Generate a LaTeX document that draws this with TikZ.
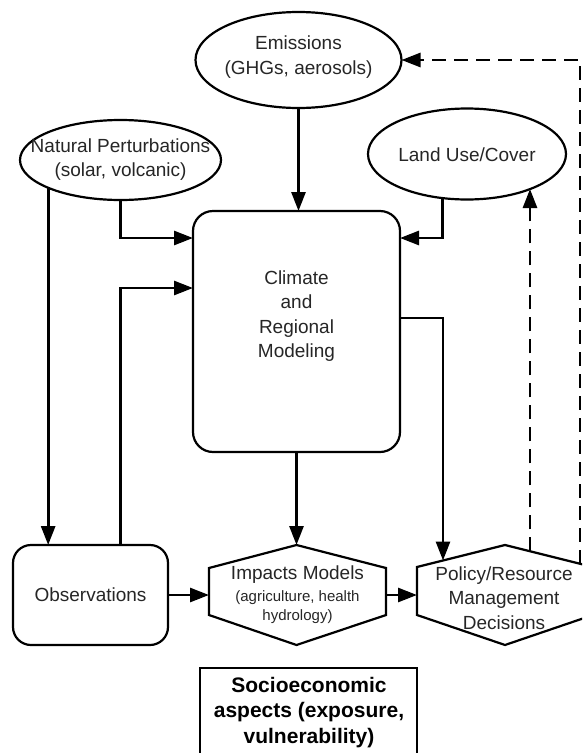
\documentclass[tikz,border=0pt]{standalone}
\usepackage{fontspec}
\setmainfont{Liberation Sans}
\usetikzlibrary{arrows.meta,shapes.geometric}
\begin{document}
\begin{tikzpicture}[x=1pt,y=-1pt,
  oval/.style={ellipse,draw,line width=2.2pt,inner sep=0pt,outer sep=0pt},
  roundbox/.style={rectangle,draw,line width=2.2pt,rounded corners=18pt,inner sep=0pt,outer sep=0pt},
  plainbox/.style={rectangle,draw,line width=2.2pt,inner sep=0pt,outer sep=0pt},
  txt/.style={align=center,inner sep=0pt,text=black!85,font=\fontsize{19}{24.5}\selectfont},
  smalltxt/.style={align=center,inner sep=0pt,text=black!85,font=\fontsize{15}{19}\selectfont},
  boldtxt/.style={align=center,inner sep=0pt,text=black,font=\fontsize{21}{25.5}\selectfont\bfseries},
  hexline/.style={draw,line width=2.2pt,line join=miter},
  flow/.style={line width=2.8pt,-{Triangle[length=19pt,width=14pt]}},
  feedback/.style={flow,dash pattern=on 14pt off 8pt}
]
\clip (0,0) rectangle (582,753);
\fill[white] (0,0) rectangle (582,753);

% drivers (ellipses)
\node[oval,minimum width=206pt,minimum height=96pt] (emis) at (298.5,60) {};
\node[txt] (emis-t) at (298.5,57) {Emissions\\(GHGs, aerosols)};
\node[oval,minimum width=201pt,minimum height=80pt] (natp) at (120.5,160) {};
\node[txt] (natp-t) at (120.5,159.5) {Natural Perturbations\\(solar, volcanic)};
\node[oval,minimum width=198pt,minimum height=91pt] (land) at (467,154) {};
\node[txt] (land-t) at (467,155) {Land Use/Cover};

% central model
\node[roundbox,rounded corners=20pt,minimum width=207pt,minimum height=241pt] (clim) at (296.5,331.5) {};
\node[txt] (clim-t) at (296.5,316) {Climate\\and\\Regional\\Modeling};
\coordinate (clim-in1) at (193,238);
\coordinate (clim-in2) at (193,288);
\coordinate (clim-in3) at (400,238);
\coordinate (clim-out) at (400,318);

% observations
\node[roundbox,minimum width=155pt,minimum height=100pt] (obs) at (90.5,595) {};
\node[txt] (obs-t) at (obs) {Observations};

% impacts hexagon
\coordinate (imp-n) at (296.5,545);
\coordinate (imp-w) at (209,595);
\coordinate (imp-e) at (386,595);
\draw[hexline] (imp-n) -- (209,568) -- (209,615) -- (296.5,645) -- (386,615) -- (386,568) -- cycle;
\node[txt] (imp-t1) at (297.5,575) {Impacts Models};
\node[smalltxt] (imp-t2) at (297.5,607.5) {(agriculture, health\\hydrology)};

% policy hexagon
\coordinate (pol-w) at (417,595);
\coordinate (pol-in) at (443,560.5);
\coordinate (pol-f1) at (530,551.25);
\coordinate (pol-f2) at (580,563.75);
\draw[hexline] (505,545) -- (417,567) -- (417,615) -- (505,645) -- (593,615) -- (593,567) -- cycle;
\node[txt] (pol-t) at (504,598) {Policy/Resource\\Management\\Decisions};

% socioeconomic context
\node[plainbox,minimum width=217pt,minimum height=90pt] (soc) at (308.5,713) {};
\node[boldtxt] (soc-t) at (309,712.5) {Socioeconomic\\aspects (exposure,\\vulnerability)};

% connectors
\draw[flow] (emis.south) -- (emis.south |- clim.north);
\draw[flow] (natp.south) |- (clim-in1);
\draw[flow] (natp.south |- obs.north) |- (clim-in2);
\draw[flow] (natp.201) -- (natp.201 |- obs.north);
\draw[flow] (land.241) |- (clim-in3);
\draw[flow] (clim-out) -| (pol-in);
\draw[flow] (clim.south) -- (imp-n);
\draw[flow] (obs.east) -- (obs.east -| imp-w);
\draw[flow] (imp-e) -- (imp-e -| pol-w);

% feedback paths
\draw[feedback] (pol-f1) -- (pol-f1 |- land.331);
\draw[feedback] (pol-f2) |- (emis.east);
\end{tikzpicture}
\end{document}
